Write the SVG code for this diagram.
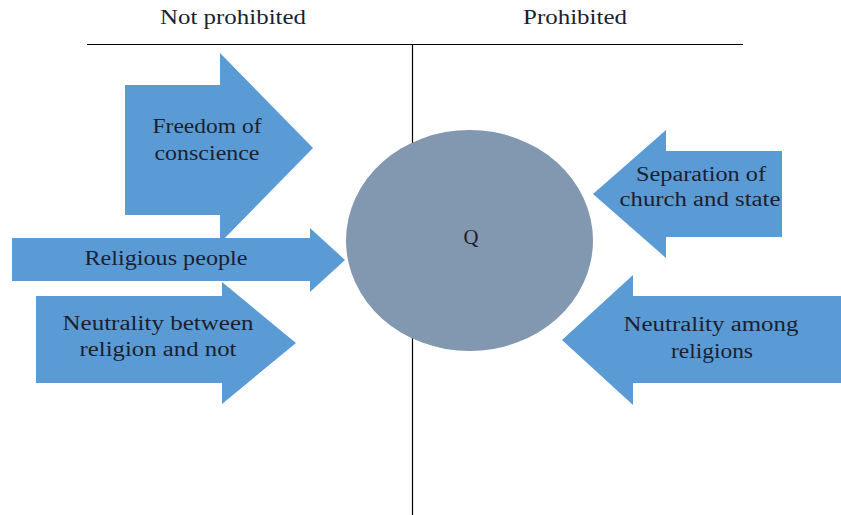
<svg xmlns="http://www.w3.org/2000/svg" width="841" height="515" viewBox="0 0 841 515">
<style>
.arrow{fill:#5b9bd5;stroke:none}
.lbl{font-family:"Liberation Serif","Times New Roman",serif;font-size:20px;fill:#1b1f2f;text-anchor:middle}
.axis{stroke:#000;stroke-width:1.2;fill:none}
</style>
<rect width="841" height="515" fill="#fff"/>
<g id="axes">
<line class="axis" x1="87" y1="44.5" x2="743" y2="44.5"/>
<line class="axis" x1="412.5" y1="44" x2="412.5" y2="515"/>
</g>
<g id="headers">
<text class="lbl" x="233" y="24" textLength="146" lengthAdjust="spacingAndGlyphs">Not prohibited</text>
<text class="lbl" x="575" y="24" textLength="104" lengthAdjust="spacingAndGlyphs">Prohibited</text>
</g>
<g id="q">
<ellipse cx="469.5" cy="240.5" rx="123.5" ry="110.5" fill="#8297b0"/>
<text class="lbl" x="471" y="244" textLength="15" lengthAdjust="spacingAndGlyphs">Q</text>
</g>
<g id="freedom">
<polygon class="arrow" points="125,85 220,85 220,53 313,148 220,243 220,215 125,215"/>
<text class="lbl" x="207" y="133" textLength="109" lengthAdjust="spacingAndGlyphs">Freedom of</text>
<text class="lbl" x="207" y="160" textLength="105" lengthAdjust="spacingAndGlyphs">conscience</text>
</g>
<g id="neutrality-between">
<polygon class="arrow" points="36,296 222,296 222,282 296,343 222,404 222,383 36,383"/>
<text class="lbl" x="158" y="330" textLength="191" lengthAdjust="spacingAndGlyphs">Neutrality between</text>
<text class="lbl" x="158" y="356" textLength="157" lengthAdjust="spacingAndGlyphs">religion and not</text>
</g>
<g id="religious-people">
<polygon class="arrow" points="12,238 310,238 310,228 345,260 310,292 310,281 12,281"/>
<text class="lbl" x="166" y="265" textLength="163" lengthAdjust="spacingAndGlyphs">Religious people</text>
</g>
<g id="separation">
<polygon class="arrow" points="782,151 666,151 666,130 593,194 666,258 666,237 782,237"/>
<text class="lbl" x="701" y="181" textLength="130" lengthAdjust="spacingAndGlyphs">Separation of</text>
<text class="lbl" x="700" y="206" textLength="161" lengthAdjust="spacingAndGlyphs">church and state</text>
</g>
<g id="neutrality-among">
<polygon class="arrow" points="841,296 633,296 633,275 562,340 633,405 633,383 841,383"/>
<text class="lbl" x="711" y="331" textLength="175" lengthAdjust="spacingAndGlyphs">Neutrality among</text>
<text class="lbl" x="712" y="358" textLength="82" lengthAdjust="spacingAndGlyphs">religions</text>
</g>
</svg>
